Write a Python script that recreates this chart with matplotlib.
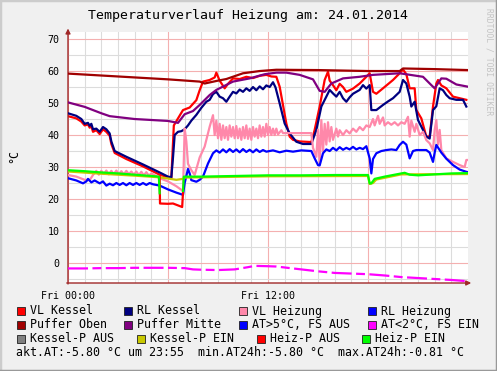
#!/usr/bin/env python3

import numpy as np
import matplotlib
matplotlib.use("Agg")
import matplotlib.pyplot as plt
from matplotlib.patches import Rectangle
from matplotlib.lines import Line2D

# hours since Fri 00:00 and temperatures (deg C)
t_vlk = [0, 0.5, 0.8, 1.0, 1.2, 1.3, 1.4, 1.5, 1.7, 1.9, 2.1, 2.3, 2.5, 2.6, 2.8, 3.5, 4.5, 5.5, 6.0, 6.2,
         6.35, 6.6, 6.9, 7.3, 7.7, 7.9, 8.1, 8.5, 8.8, 8.9, 9.1, 9.4, 9.6, 9.9, 10.3, 10.7, 11.1, 11.5, 11.9,
         12.2, 12.5, 12.7, 13.1, 13.3, 13.5, 13.9, 14.6, 14.8, 15.1, 15.4, 15.6, 15.7, 15.9, 16.1, 16.3, 16.5,
         16.7, 17.1, 17.5, 17.9, 18.1, 18.3, 18.5, 18.9, 19.5, 19.9, 20.1, 20.3, 20.5, 20.8, 20.9, 21.2, 21.5,
         21.7, 21.9, 22.1, 22.2, 22.4, 22.7, 23.1, 23.5, 23.9]
vl_kessel = [45.9, 45.2, 44.2, 43.0, 43.3, 42.3, 42.8, 41.0, 41.5, 40.3, 41.8, 41.0, 39.8, 37.2, 34.4, 32.5,
             30.2, 27.6, 26.8, 26.5, 43.0, 45.2, 47.8, 48.6, 50.9, 54.0, 56.7, 57.2, 58.0, 59.5, 57.0, 54.6,
             56.0, 57.7, 57.5, 58.2, 57.8, 58.5, 58.8, 58.3, 58.2, 55.1, 43.6, 39.5, 38.5, 38.0, 37.8, 41.6,
             48.9, 57.2, 59.8, 57.0, 55.6, 54.0, 56.0, 55.0, 53.5, 54.5, 56.1, 58.2, 59.3, 53.5, 52.9, 54.6,
             57.2, 59.3, 60.5, 59.0, 54.6, 54.6, 47.8, 45.2, 39.5, 39.5, 48.9, 56.1, 57.2, 55.5, 54.6, 52.0,
             51.5, 51.0]

t_rlk = [0, 0.5, 0.8, 1.0, 1.2, 1.3, 1.4, 1.5, 1.7, 1.9, 2.1, 2.3, 2.5, 2.6, 2.8, 3.5, 4.5, 5.5, 6.0, 6.2,
         6.3, 6.4, 6.6, 6.8, 7.0, 7.2, 7.4, 7.7, 8.0, 8.3, 8.5, 8.7, 8.9, 9.1, 9.3, 9.5, 9.7, 9.9, 10.1, 10.3,
         10.5, 10.7, 10.9, 11.1, 11.3, 11.5, 11.7, 11.9, 12.1, 12.3, 12.45, 12.7, 13.0, 13.3, 13.7, 14.1,
         14.6, 14.9, 15.2, 15.5, 15.7, 15.9, 16.1, 16.3, 16.5, 16.7, 16.9, 17.1, 17.3, 17.5, 17.7, 17.9,
         18.1, 18.2, 18.5, 18.9, 19.2, 19.5, 19.7, 19.9, 20.1, 20.3, 20.5, 20.6, 20.8, 21.0, 21.3, 21.5,
         21.7, 21.9, 22.1, 22.3, 22.5, 22.7, 22.9, 23.3, 23.7, 23.9]
rl_kessel = [46.8, 46.0, 45.0, 43.5, 43.8, 42.9, 43.5, 41.8, 42.0, 41.0, 42.5, 41.8, 40.5, 38.0, 35.0, 33.2,
             30.8, 28.3, 27.0, 26.8, 33.0, 40.0, 41.0, 41.2, 41.8, 43.0, 44.5, 46.3, 48.5, 50.4, 51.0, 52.8,
             53.5, 52.0, 51.5, 50.4, 52.0, 53.5, 53.0, 54.2, 53.5, 54.6, 53.8, 55.0, 54.0, 55.2, 54.3, 55.5,
             55.0, 56.5, 54.9, 49.9, 43.6, 40.5, 37.9, 37.2, 37.2, 41.6, 48.9, 52.0, 54.1, 53.0, 52.0, 53.5,
             51.5, 50.4, 51.8, 52.9, 53.5, 54.1, 55.6, 54.5, 55.6, 47.8, 47.8, 49.4, 50.5, 51.5, 52.5, 53.5,
             57.2, 56.1, 52.0, 48.9, 50.4, 44.7, 41.6, 39.5, 38.9, 47.8, 49.0, 54.6, 54.0, 52.5, 51.5, 51.0,
             51.0, 48.9]

t_vlh = [0, 0.5, 1.0, 1.3, 1.5, 1.7, 1.85, 2.0, 2.15, 2.3, 2.45, 2.6, 2.75, 2.9, 3.05, 3.2, 3.35, 3.5, 3.65,
         3.8, 3.95, 4.1, 4.25, 4.4, 4.55, 4.7, 4.85, 5.0, 5.3, 5.5, 6.0, 6.5, 6.9, 7.0, 7.1, 7.2, 7.4, 7.6,
         7.9, 8.2, 8.5, 8.7, 8.8, 8.9, 9.0, 9.1, 9.2, 9.3, 9.4, 9.5, 9.6, 9.7, 9.8, 9.9, 10.0, 10.1, 10.2,
         10.3, 10.4, 10.5, 10.6, 10.7, 10.8, 10.9, 11.0, 11.1, 11.2, 11.3, 11.4, 11.5, 11.6, 11.7, 11.8,
         11.9, 12.0, 12.1, 12.2, 12.3, 12.4, 12.5, 12.6, 12.8, 12.9, 14.6, 14.7, 14.9, 15.0, 15.1, 15.2,
         15.3, 15.4, 15.5, 15.6, 15.7, 15.8, 15.9, 16.1, 16.2, 16.3, 16.5, 16.7, 16.9, 17.1, 17.3, 17.5,
         17.7, 17.9, 18.1, 18.3, 18.4, 18.6, 18.7, 18.9, 19.0, 19.2, 19.4, 19.6, 19.8, 20.0, 20.2, 20.4,
         20.5, 20.6, 20.8, 20.9, 21.1, 21.3, 21.5, 21.7, 21.9, 22.0, 22.1, 22.2, 22.3, 22.4, 22.7, 23.1,
         23.5, 23.8, 23.9, 24.0]
vl_heizung = [27.5, 27.0, 26.0, 25.9, 27.5, 28.8, 27.6, 28.8, 27.8, 28.9, 27.7, 28.8, 27.8, 28.9, 27.8, 28.7,
              27.7, 28.8, 27.8, 28.6, 27.6, 28.6, 27.5, 28.5, 27.4, 28.4, 27.3, 28.0, 27.2, 26.5, 25.5, 24.0,
              22.5, 42.0, 38.0, 31.0, 29.0, 27.5, 33.0, 36.4, 42.6, 46.2, 40.0, 44.5, 39.0, 43.5, 38.5, 43.0,
              39.0, 42.5, 38.5, 43.0, 39.5, 42.5, 39.0, 42.8, 39.0, 42.0, 38.5, 42.5, 39.0, 43.0, 38.8, 42.0,
              38.5, 42.5, 39.5, 42.0, 39.0, 43.0, 39.5, 42.5, 39.5, 43.5, 40.0, 42.5, 40.0, 42.0, 40.0, 42.0,
              40.2, 41.5, 40.6, 40.6, 36.0, 33.2, 41.6, 31.1, 44.7, 35.0, 43.5, 37.0, 44.0, 38.0, 42.5, 38.5,
              42.0, 39.5, 41.5, 40.0, 41.5, 40.5, 42.0, 41.0, 42.5, 41.5, 43.0, 42.5, 45.0, 43.0, 46.0, 43.5,
              45.5, 43.0, 44.0, 43.2, 44.0, 43.0, 44.0, 43.5, 45.7, 39.5, 44.5, 41.0, 43.5, 40.0, 41.0, 38.4,
              37.4, 35.3, 41.6, 44.7, 37.0, 41.6, 35.3, 32.7, 31.6, 30.6, 30.0, 32.2, 32.2]

t_rlh = [0, 0.5, 0.9, 1.1, 1.2, 1.4, 1.6, 1.9, 2.1, 2.3, 2.5, 2.7, 2.9, 3.1, 3.3, 3.5, 3.7, 3.9, 4.1, 4.3,
         4.5, 4.7, 4.9, 5.1, 5.5, 6.0, 6.5, 6.9, 7.0, 7.2, 7.3, 7.4, 7.7, 7.9, 8.1, 8.4, 8.7, 8.9, 9.1, 9.3,
         9.5, 9.7, 9.9, 10.1, 10.3, 10.5, 10.7, 10.9, 11.1, 11.3, 11.5, 11.7, 11.9, 12.3, 12.7, 13.1, 13.5,
         14.0, 14.6, 14.8, 15.0, 15.1, 15.3, 15.5, 15.7, 15.9, 16.1, 16.3, 16.5, 16.7, 16.9, 17.1, 17.3,
         17.5, 17.7, 17.9, 18.1, 18.2, 18.3, 18.5, 18.8, 19.1, 19.4, 19.7, 19.9, 20.1, 20.3, 20.5, 20.7,
         20.9, 21.2, 21.5, 21.7, 21.9, 22.0, 22.1, 22.4, 22.7, 23.1, 23.5, 23.9, 24.0]
rl_heizung = [26.5, 25.8, 24.9, 25.5, 26.3, 25.2, 25.8, 24.9, 25.5, 24.2, 24.8, 24.3, 25.0, 24.4, 25.0, 24.3,
              25.0, 24.4, 25.0, 24.4, 25.0, 24.4, 25.0, 24.6, 24.2, 23.0, 22.0, 21.3, 25.0, 29.4, 28.0, 25.9,
              25.4, 26.0, 27.0, 31.1, 34.3, 35.2, 34.5, 35.5, 34.6, 35.6, 34.7, 35.5, 34.6, 35.6, 34.7, 35.4,
              34.6, 35.5, 34.7, 35.3, 34.8, 35.2, 34.6, 35.1, 34.8, 35.2, 35.0, 32.7, 30.6, 30.5, 34.3, 35.5,
              35.0, 36.0, 35.2, 36.2, 35.4, 36.0, 35.5, 36.3, 35.5, 36.0, 35.6, 36.5, 32.7, 28.0, 32.5, 34.3,
              35.0, 35.3, 35.5, 35.3, 36.9, 37.9, 37.0, 32.7, 35.0, 35.3, 35.3, 35.3, 34.5, 31.6, 34.5, 36.9,
              34.5, 32.6, 30.6, 29.2, 28.5, 28.4]

t_po = [0, 2, 4, 6, 7.9, 8.2, 9.0, 9.5, 10.5, 11.5, 12.5, 15, 18, 19.9, 20.1, 22, 24]
puffer_oben = [59.2, 58.6, 58.0, 57.4, 56.7, 56.1, 57.0, 57.5, 59.3, 60.0, 60.4, 60.3, 60.0, 60.0, 60.8,
               60.6, 60.3]

t_pm = [0, 1, 2, 2.5, 4, 6, 6.6, 7.0, 7.5, 7.9, 8.5, 8.9, 9.9, 10.9, 11.8, 12.5, 13.1, 13.9, 14.7, 15.1,
        15.4, 15.8, 16.5, 17.5, 18.3, 19.9, 21.3, 21.8, 22.0, 22.4, 22.7, 23.3, 24]
puffer_mitte = [50.2, 48.8, 46.8, 45.9, 45.0, 44.4, 43.8, 46.5, 47.5, 49.4, 52.5, 54.1, 56.7, 57.7, 59.0,
                59.5, 59.5, 58.8, 57.4, 53.8, 53.5, 56.1, 57.7, 58.2, 58.8, 59.3, 58.2, 55.6, 54.6, 57.7,
                57.6, 55.8, 55.1]

t_at = [0, 1, 2, 3, 4, 5, 6, 7, 7.5, 8, 9, 10, 10.8, 11.2, 12, 12.5, 13, 14, 15, 16, 17, 18, 19, 20, 21,
        22, 23, 24]
at_fs_ein = [-1.7, -1.7, -1.6, -1.6, -1.5, -1.5, -1.5, -1.6, -2.0, -2.1, -2.2, -2.0, -1.3, -0.9, -1.0,
             -1.1, -1.4, -2.0, -2.6, -3.1, -3.3, -3.5, -3.9, -4.4, -4.7, -5.0, -5.3, -5.7]

t_kp = [0, 2, 4, 5.45, 6.0, 6.5, 6.9, 7.0, 12, 18, 18.1, 18.3, 18.5, 20, 24]
kessel_p_ein = [28.6, 27.9, 27.3, 26.8, 26.4, 26.0, 26.3, 26.7, 27.1, 27.2, 24.7, 25.0, 26.1, 27.7, 27.8]

t_hpa = [5.5, 5.52, 6.0, 6.3, 6.6, 6.85, 6.9]
heiz_p_aus = [27.0, 18.6, 18.5, 18.6, 18.0, 17.5, 22.0]

t_hpe = [0, 1, 2, 3, 4, 5, 5.45, 5.5, 5.55, 6.85, 6.9, 6.95, 8, 10, 12, 14, 16, 18, 18.1, 18.2, 18.4, 19,
         20, 20.2, 20.5, 21, 22, 23, 24]
heiz_p_ein = [29.0, 28.7, 28.3, 28.0, 27.6, 27.2, 27.0, 21.8, np.nan, np.nan, 22.5, 27.0, 27.0, 27.2, 27.4,
              27.4, 27.5, 27.5, 24.9, 24.9, 26.3, 27.0, 28.0, 28.2, 27.6, 27.4, 27.7, 28.0, 28.1]

legend_rows = [
    [("VL Kessel", "#ff0000"), ("RL Kessel", "#000080"), ("VL Heizung", "#ff88aa"), ("RL Heizung", "#0000ff")],
    [("Puffer Oben", "#a00000"), ("Puffer Mitte", "#800080"), ("AT>5°C, FS AUS", "#0000ff"), ("AT<2°C, FS EIN", "#ff00ff")],
    [("Kessel-P AUS", "#808080"), ("Kessel-P EIN", "#c8c800"), ("Heiz-P AUS", "#ff0000"), ("Heiz-P EIN", "#00ff00")],
]
legend_cols = [[17, 124, 239, 368], [17, 124, 239, 368], [17, 137, 257, 362]]
stats_text = "akt.AT:-5.80 °C um 23:55  min.AT24h:-5.80 °C  max.AT24h:-0.81 °C"

W, H = 497, 371
mono = "DejaVu Sans Mono"
fig = plt.figure(figsize=(W / 100, H / 100), dpi=100, facecolor="#f0f0f0")
ax = fig.add_axes([68 / W, (H - 283) / H, 400 / W, 251 / H])
ax.set_facecolor("white")
ax.set_xlim(0, 24)
ax.set_ylim(-6.25, 72.2)

ax.set_xticks([0, 6, 12, 18])
ax.set_xticklabels(["Fri 00:00", "", "Fri 12:00", ""])
ax.set_xticks(np.arange(0, 24, 1), minor=True)
ax.set_yticks(np.arange(0, 71, 10))
ax.set_yticks(np.arange(-5, 72, 5), minor=True)
ax.grid(which="minor", color="#dcdcdc", lw=0.8)
ax.grid(which="major", color="#f4b0b0", lw=0.8)
ax.set_axisbelow(True)
ax.tick_params(which="both", length=0, labelsize=7.2, colors="black", pad=6)
for lab in ax.get_xticklabels() + ax.get_yticklabels():
    lab.set_fontfamily(mono)
for s in ax.spines.values():
    s.set_visible(False)

lw = 1.6
ax.plot(t_vlk, vl_kessel, color="#ff0000", lw=lw, zorder=3)
ax.plot(t_rlk, rl_kessel, color="#000080", lw=lw, zorder=4)
ax.plot(t_vlh, vl_heizung, color="#ff88aa", lw=lw, zorder=5)
ax.plot(t_rlh, rl_heizung, color="#0000ff", lw=lw, zorder=6)
ax.plot(t_po, puffer_oben, color="#a00000", lw=lw, zorder=7)
ax.plot(t_pm, puffer_mitte, color="#800080", lw=lw, zorder=8)
ax.plot(t_at, at_fs_ein, color="#ff00ff", lw=lw, zorder=9, dashes=(9, 2, 4, 2))
ax.plot(t_kp, kessel_p_ein, color="#c8c800", lw=lw, zorder=10)
ax.plot(t_hpa, heiz_p_aus, color="#ff0000", lw=lw, zorder=11)
ax.plot(t_hpe, heiz_p_ein, color="#00ff00", lw=lw, zorder=12)

# axes with arrow heads
axc = "#a02828"
ax.annotate("", xy=(1.015, 0), xytext=(-0.01, 0), xycoords="axes fraction",
            arrowprops=dict(arrowstyle="-|>", color=axc, lw=1, mutation_scale=7), annotation_clip=False)
ax.annotate("", xy=(0, 1.025), xytext=(0, -0.015), xycoords="axes fraction",
            arrowprops=dict(arrowstyle="-|>", color=axc, lw=1, mutation_scale=7), annotation_clip=False)

fig.text(248 / W, 1 - 16 / H, "Temperaturverlauf Heizung am: 24.01.2014", family=mono, fontsize=9.5,
         ha="center", va="center")
fig.text(14 / W, 1 - 156 / H, "°C", family=mono, fontsize=8.4, rotation=90, ha="center", va="center")
fig.text(489 / W, 1 - 62 / H, "RRDTOOL / TOBI OETIKER", family=mono, fontsize=5.8, rotation=270,
         color="#c4c4c4", ha="center", va="center")

row_y = [311, 325, 339]
for row, cols, yy in zip(legend_rows, legend_cols, row_y):
    for (label, col), xx in zip(row, cols):
        fig.add_artist(Rectangle((xx / W, 1 - (yy + 4) / H), 8 / W, 8 / H, facecolor=col,
                                 edgecolor="#202020", lw=0.6, transform=fig.transFigure))
        fig.text((xx + 13) / W, 1 - yy / H, label, family=mono, fontsize=8.4, ha="left", va="center")
fig.text(16 / W, 1 - 353 / H, stats_text, family=mono, fontsize=8.4, ha="left", va="center")

# image frame
fig.add_artist(Line2D([0, 1], [1, 1], color="#cccccc", lw=2.5, transform=fig.transFigure))
fig.add_artist(Line2D([0, 0], [0, 1], color="#cccccc", lw=2.5, transform=fig.transFigure))
fig.add_artist(Line2D([0, 1], [0, 0], color="#999999", lw=2.5, transform=fig.transFigure))
fig.add_artist(Line2D([1, 1], [0, 1], color="#999999", lw=2.5, transform=fig.transFigure))

fig.savefig("out.png", dpi=100, facecolor=fig.get_facecolor())
